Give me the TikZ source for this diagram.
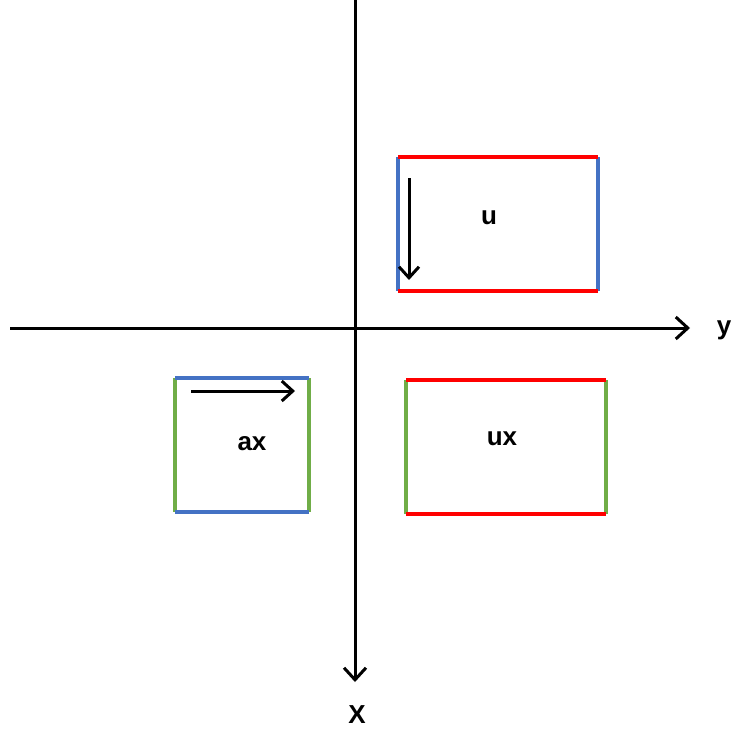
\documentclass[tikz,border=0pt]{standalone}
\usepackage{fontspec}
\setmainfont{Liberation Sans}
\usetikzlibrary{arrows.meta}
\definecolor{cred}{RGB}{255,0,0}
\definecolor{cblue}{RGB}{68,114,196}
\definecolor{cgreen}{RGB}{112,173,71}
\begin{document}
\begin{tikzpicture}[x=1pt,y=-1pt,
  axis/.style={line width=3pt,-{Straight Barb[length=12pt,width=22pt,line width=3pt]}},
  inarrow/.style={line width=3pt,-{Straight Barb[length=11pt,width=20pt,line width=3pt]}},
  boxedge/.style={line width=3.4pt},
  lbl/.style={font=\fontsize{26}{30}\selectfont\bfseries}]
\useasboundingbox[fill=white] (0,0) rectangle (732,731);
% axes
\coordinate (hl) at (10,328);
\coordinate (hr) at (690,328);
\coordinate (vt) at (355,0);
\coordinate (vb) at (355,682);
\draw[axis] (hl) -- (hr);
\draw[axis] (vt) -- (vb);
\node[lbl] (ylab) at (724,330) {y};
\node[lbl] (xlab) at (357,715) {X};
% box u
\coordinate (u1) at (398,157);
\coordinate (u2) at (598,157);
\coordinate (u3) at (598,291);
\coordinate (u4) at (398,291);
\draw[boxedge,cblue] (u1) -- (u4);
\draw[boxedge,cblue] (u2) -- (u3);
\draw[boxedge,cred] (u1) -- (u2);
\draw[boxedge,cred] (u4) -- (u3);
\node[lbl] (ulab) at (489,218) {u};
\coordinate (ua) at (409,178);
\coordinate (ub) at (409,280);
\draw[inarrow] (ua) -- (ub);
% box ax
\coordinate (a1) at (175,378);
\coordinate (a2) at (309,378);
\coordinate (a3) at (309,512);
\coordinate (a4) at (175,512);
\draw[boxedge,cgreen] (a1) -- (a4);
\draw[boxedge,cgreen] (a2) -- (a3);
\draw[boxedge,cblue] (a1) -- (a2);
\draw[boxedge,cblue] (a4) -- (a3);
\node[lbl] (axlab) at (252,444) {ax};
\coordinate (aa) at (191,391);
\coordinate (ab) at (295,391);
\draw[inarrow] (aa) -- (ab);
% box ux
\coordinate (x1) at (406,380);
\coordinate (x2) at (606,380);
\coordinate (x3) at (606,514);
\coordinate (x4) at (406,514);
\draw[boxedge,cgreen] (x1) -- (x4);
\draw[boxedge,cgreen] (x2) -- (x3);
\draw[boxedge,cred] (x1) -- (x2);
\draw[boxedge,cred] (x4) -- (x3);
\node[lbl] (uxlab) at (502,439) {ux};
\end{tikzpicture}
\end{document}
